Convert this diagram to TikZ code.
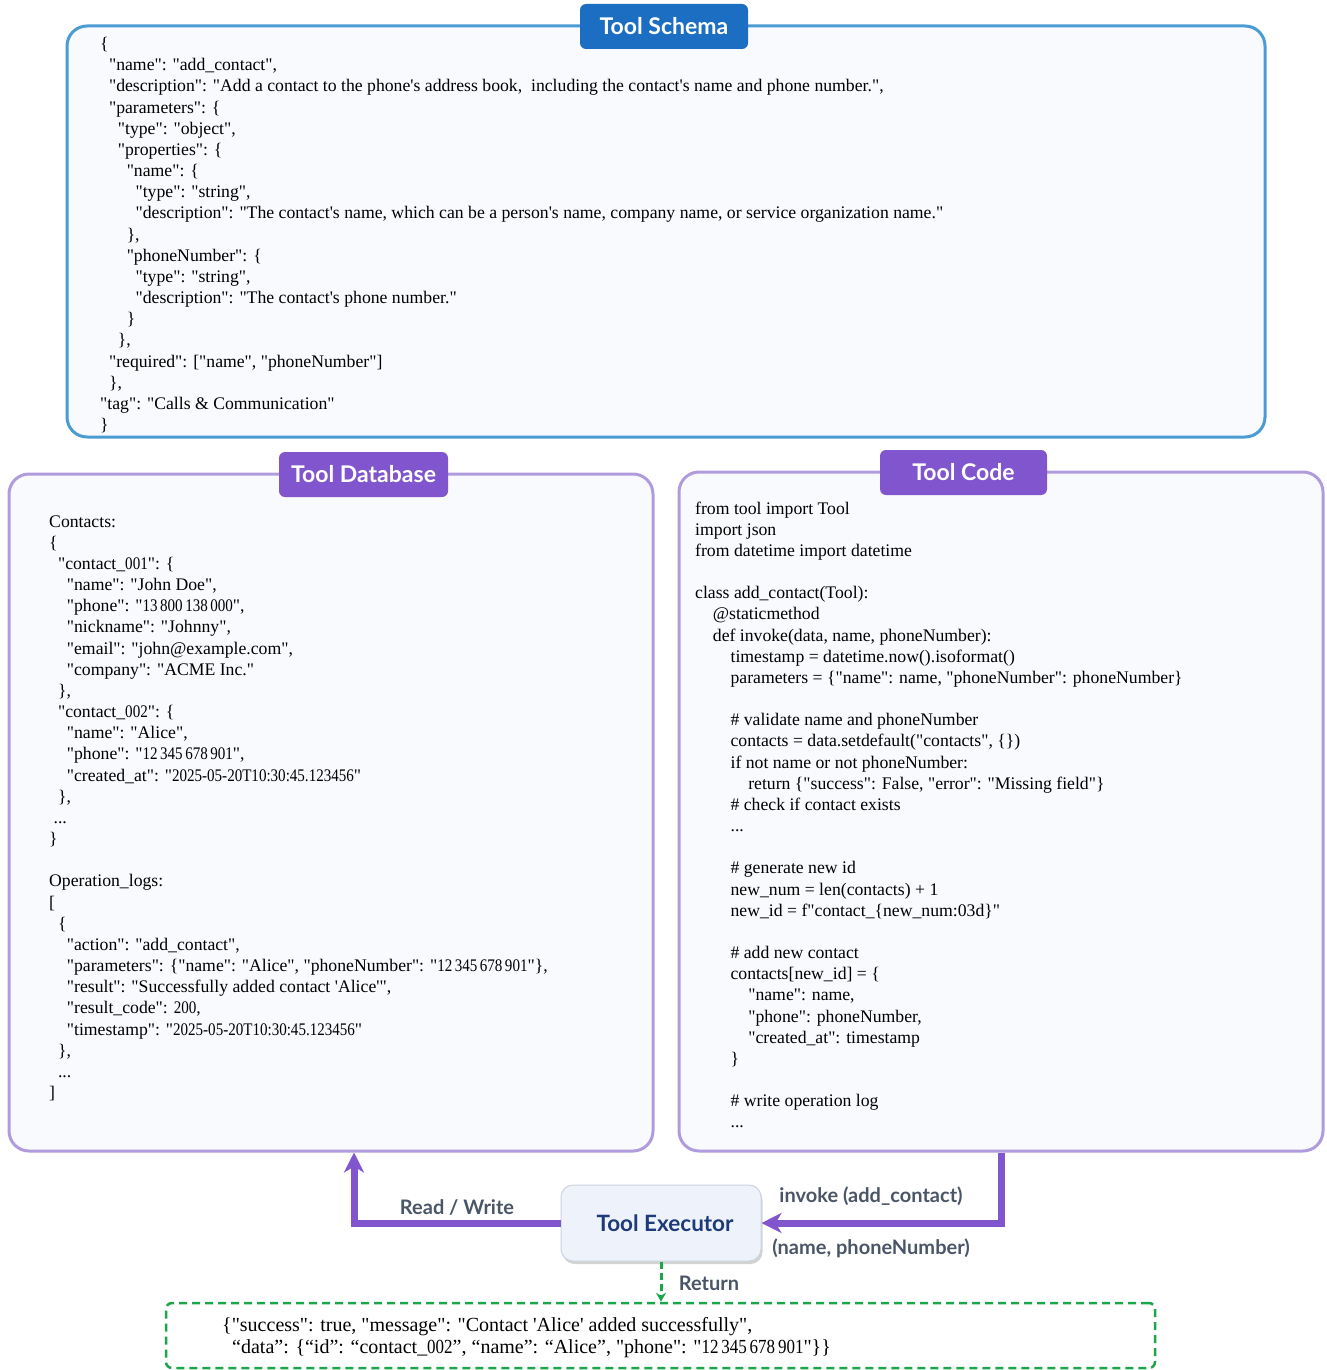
\documentclass[tikz,border=0pt]{standalone}
\usepackage{fontspec}
\usepackage{graphicx}
\setmainfont{Liberation Serif}[Ligatures=TeXOff]
\newfontfamily\lato{Lato}
\usetikzlibrary{arrows.meta,shadows,calc}
\definecolor{schemaBorder}{HTML}{4B9CD3}
\definecolor{schemaTag}{HTML}{1B6EC2}
\definecolor{purpleTag}{HTML}{8155CE}
\definecolor{purpleBorder}{HTML}{B09BDD}
\definecolor{boxFill}{HTML}{F9FAFD}
\definecolor{execFill}{HTML}{EEF3FB}
\definecolor{execBorder}{HTML}{CBD3DF}
\definecolor{execText}{HTML}{1F3A7A}
\definecolor{labelGrey}{HTML}{4A5568}
\definecolor{retGreen}{HTML}{1DA54B}
\newcommand\ind[1]{\hspace*{#1\fontdimen2\font}}
\newcommand\dg[1]{\scalebox{0.85}[1]{#1}}
\begin{document}
\begin{tikzpicture}[x=1pt,y=-1pt,
  panel/.style={draw, line width=3pt, fill=boxFill, rounded corners=20pt, rectangle, inner sep=0pt},
  tag/.style={rectangle, rounded corners=6pt, text=white, minimum width=168pt, minimum height=45pt, inner sep=0pt, font=\lato\bfseries\fontsize{23}{27}\selectfont},
  txt/.style={inner sep=0pt, anchor=base west, font=\fontsize{17.7}{21.17}\selectfont},
  lbl/.style={text=labelGrey, font=\lato\bfseries\fontsize{20}{24}\selectfont, inner sep=0pt},
  parr/.style={draw=purpleTag, line width=7pt, -{Stealth[length=20pt,width=20pt,inset=6pt]}},
]
\useasboundingbox (0,0) rectangle (1326,1370);

% panels
\node[panel, draw=schemaBorder, minimum width=1198pt, minimum height=411pt] (schema) at (666,231.5) {};
\node[panel, draw=purpleBorder, minimum width=644pt, minimum height=677pt] (db) at (331,812.5) {};
\node[panel, draw=purpleBorder, minimum width=644pt, minimum height=679pt] (code) at (1001,811.5) {};

% tags
\node[tag, fill=schemaTag] (schematag) at (664,26.5) {Tool Schema};
\node[tag, fill=purpleTag, minimum width=169pt] (dbtag) at (363.5,474.5) {Tool Database};
\node[tag, fill=purpleTag, minimum width=167pt] (codetag) at (963.5,472.5) {Tool Code};

% schema text
\node[txt] (schematext) at (100,49.5) {\parbox[t]{1150pt}{%
\ind{0}\{\\
\ind{2}"name": "add\_contact",\\
\ind{2}"description": "Add a contact to the phone's address book,~ including the contact's name and phone number.",\\
\ind{2}"parameters": \{\\
\ind{4}"type": "object",\\
\ind{4}"properties": \{\\
\ind{6}"name": \{\\
\ind{8}"type": "string",\\
\ind{8}"description": "The contact's name, which can be a person's name, company name, or service organization name."\\
\ind{6}\},\\
\ind{6}"phoneNumber": \{\\
\ind{8}"type": "string",\\
\ind{8}"description": "The contact's phone number."\\
\ind{6}\}\\
\ind{4}\},\\
\ind{2}"required": ["name", "phoneNumber"]\\
\ind{2}\},\\
\ind{0}"tag": "Calls \& Communication"\\
\ind{0}\}}};

% database text
\node[txt] (dbtext) at (49,527) {\parbox[t]{600pt}{%
\ind{0}Contacts:\\
\ind{0}\{\\
\ind{2}"contact\_\dg{001}": \{\\
\ind{4}"name": "John Doe",\\
\ind{4}"phone": "\dg{13\,800\,138\,000}",\\
\ind{4}"nickname": "Johnny",\\
\ind{4}"email": "john@example.com",\\
\ind{4}"company": "ACME Inc."\\
\ind{2}\},\\
\ind{2}"contact\_\dg{002}": \{\\
\ind{4}"name": "Alice",\\
\ind{4}"phone": "\dg{12\,345\,678\,901}",\\
\ind{4}"created\_at": "\dg{2025-05-20T10:30:45.123456}"\\
\ind{2}\},\\
\ind{1}...\\
\ind{0}\}\\
\mbox{}\\
\ind{0}Operation\_logs:\\
\ind{0}[\\
\ind{2}\{\\
\ind{4}"action": "add\_contact",\\
\ind{4}"parameters": \{"name": "Alice", "phoneNumber": "\dg{12\,345\,678\,901}"\},\\
\ind{4}"result": "Successfully added contact 'Alice'",\\
\ind{4}"result\_code": \dg{200},\\
\ind{4}"timestamp": "\dg{2025-05-20T10:30:45.123456}"\\
\ind{2}\},\\
\ind{2}...\\
\ind{0}]}};

% code text
\node[txt] (codetext) at (695,514) {\parbox[t]{620pt}{%
\ind{0}from tool import Tool\\
\ind{0}import json\\
\ind{0}from datetime import datetime\\
\mbox{}\\
\ind{0}class add\_contact(Tool):\\
\ind{4}@staticmethod\\
\ind{4}def invoke(data, name, phoneNumber):\\
\ind{8}timestamp = datetime.now().isoformat()\\
\ind{8}parameters = \{"name": name, "phoneNumber": phoneNumber\}\\
\mbox{}\\
\ind{8}\# validate name and phoneNumber\\
\ind{8}contacts = data.setdefault("contacts", \{\})\\
\ind{8}if not name or not phoneNumber:\\
\ind{12}return \{"success": False, "error": "Missing field"\}\\
\ind{8}\# check if contact exists\\
\ind{8}...\\
\mbox{}\\
\ind{8}\# generate new id\\
\ind{8}new\_num = len(contacts) + 1\\
\ind{8}new\_id = f"contact\_\{new\_num:03d\}"\\
\mbox{}\\
\ind{8}\# add new contact\\
\ind{8}contacts[new\_id] = \{\\
\ind{12}"name": name,\\
\ind{12}"phone": phoneNumber,\\
\ind{12}"created\_at": timestamp\\
\ind{8}\}\\
\mbox{}\\
\ind{8}\# write operation log\\
\ind{8}...}};

% executor
\node[rectangle, rounded corners=12pt, draw=execBorder, line width=1pt, fill=execFill,
  minimum width=200pt, minimum height=76pt, inner sep=0pt,
  drop shadow={opacity=0.35, shadow xshift=1.5pt, shadow yshift=-3pt},
  text=execText, font=\lato\bfseries\fontsize{22.5}{26}\selectfont] (exec) at (661,1223) {\hspace*{8pt}Tool Executor};

% result box
\node[rectangle, rounded corners=6pt, draw=retGreen, line width=2.5pt, dash pattern=on 8pt off 5pt,
  fill=white, minimum width=989pt, minimum height=65pt, inner sep=0pt] (result) at (660.5,1335.5) {};
\node[txt, font=\fontsize{20}{22}\selectfont] (resulttext) at (222,1331) {\parbox[t]{900pt}{%
\ind{0}\{"success": true, "message": "Contact 'Alice' added successfully",\\
\ind{2}“data”: \{“id”: “contact\_\dg{002}”, “name”: “Alice”, "phone": "\dg{12\,345\,678\,901}"\}\}}};

% connectors
\coordinate (rwx) at (354,0);
\draw[parr] (exec.west) -| (rwx |- db.south);
\draw[parr] (code.south) |- (exec.east);
\draw[draw=retGreen, line width=3pt, dash pattern=on 7pt off 4pt, -{Stealth[length=9pt,width=10pt]}] (exec.south) -- (exec.south |- result.north);

% labels
\node[lbl] (rwlabel) at (457,1208) {Read / Write};
\node[lbl] (invlabel) at (871,1196) {invoke (add\_contact)};
\node[lbl] (arglabel) at (871,1248) {(name, phoneNumber)};
\node[lbl] (retlabel) at (709,1283) {Return};
\end{tikzpicture}
\end{document}
